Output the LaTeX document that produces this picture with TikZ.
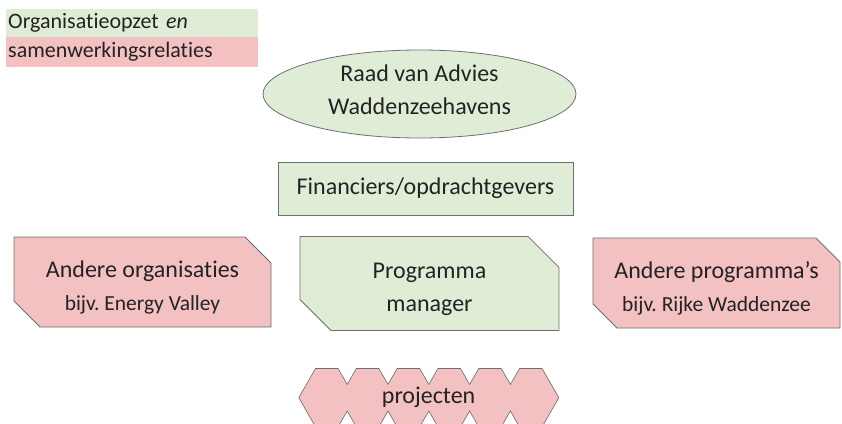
\documentclass[tikz,border=0pt]{standalone}
\usepackage{fontspec}
\setmainfont{Carlito}[Ligatures=NoCommon]
\usetikzlibrary{shapes.geometric,shapes.misc}

\definecolor{orggreen}{RGB}{224,237,214}
\definecolor{relpink}{RGB}{243,193,193}
\definecolor{edgegray}{RGB}{110,110,110}
\definecolor{txtgray}{RGB}{35,35,35}

\tikzset{
  base/.style={draw=edgegray, line width=0.8pt, text=txtgray, align=center, inner sep=0pt,
    font=\fontsize{24}{33}\selectfont},
  legendbox/.style={anchor=west, text=txtgray, align=left, inner sep=0pt, minimum height=28.5pt,
    text width=252pt, font=\fontsize{22}{25}\selectfont},
  snipbox/.style={base, chamfered rectangle, chamfered rectangle corners={north east,south west},
    chamfered rectangle xsep=13pt, chamfered rectangle ysep=13pt, minimum height=90pt},
}

\newcommand{\subline}[1]{{\fontsize{21.5}{33}\selectfont #1}}
\newcommand{\lowstrut}{\rule{0pt}{27pt}}

\begin{document}
\frenchspacing
\begin{tikzpicture}[x=1pt,y=-1pt]
  \useasboundingbox (0,0) rectangle (842,423);

  % legend
  \node[legendbox, fill=orggreen] (legorg) at (6,23) {\hspace*{2pt}Organisatieopzet \textit{en}};
  \node[legendbox, fill=relpink, minimum height=29.5pt] (legrel) at (6,52) {\hspace*{2pt}samenwerkingsrelaties};

  % top
  \node[base, ellipse, fill=orggreen, minimum width=313pt, minimum height=88pt] (raad) at (419.5,94)
    {Raad van Advies\\Waddenzeehavens\rule[-9pt]{0pt}{0pt}};
  \node[base, rectangle, fill=orggreen, minimum width=295pt, minimum height=53pt] (fin) at (425.5,188.5)
    {Financiers/opdrachtgevers};

  % middle row
  \node[snipbox, fill=relpink, minimum width=257pt] (andorg) at (142.5,282)
    {\lowstrut Andere organisaties\\\subline{bijv. Energy Valley}};
  \node[snipbox, fill=orggreen, minimum width=259pt, minimum height=91pt,
    chamfered rectangle xsep=16pt, chamfered rectangle ysep=15pt] (pm) at (429.5,283.5)
    {\lowstrut Programma\\manager};
  \node[snipbox, fill=relpink, minimum width=247pt, chamfered rectangle xsep=12pt,
    chamfered rectangle ysep=12pt] (andprog) at (716.5,283)
    {\lowstrut Andere programma's\\\subline{bijv. Rijke Waddenzee}};

  % projecten
  \foreach \i in {0,...,5} {
    \draw[edgegray, line width=1.6pt] ({299.3+40.8*\i},397.7) -- ++(16.5,-28.7) -- ++(22,0)
      -- ++(16.5,28.7) -- ++(-16.5,28.7) -- ++(-22,0) -- cycle;
  }
  \foreach \i in {0,...,5} {
    \fill[relpink] ({299.3+40.8*\i},397.7) -- ++(16.5,-28.7) -- ++(22,0)
      -- ++(16.5,28.7) -- ++(-16.5,28.7) -- ++(-22,0) -- cycle;
  }
  \node[text=txtgray, font=\fontsize{24}{27}\selectfont] (proj) at (428.6,397) {projecten};
\end{tikzpicture}
\end{document}
